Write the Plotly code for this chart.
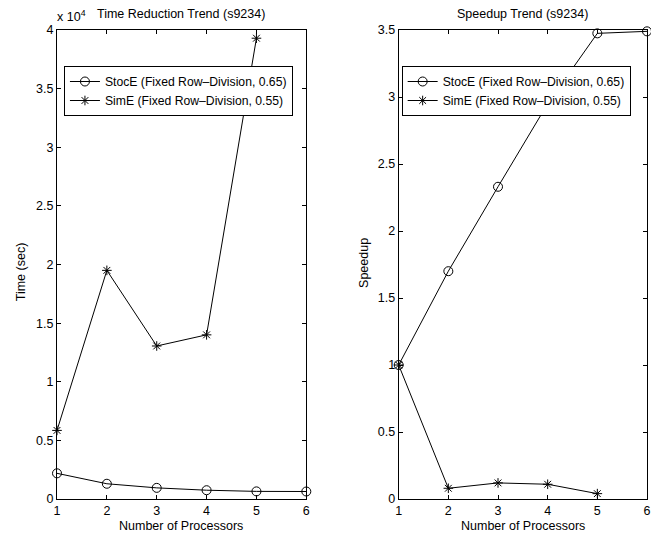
import plotly.graph_objects as go

procs = [1, 2, 3, 4, 5, 6]
procs_sime = [1, 2, 3, 4, 5]
stoce_time = [2190, 1300, 950, 750, 650, 640]
sime_time = [5850, 19500, 13050, 14000, 39300]
stoce_speedup = [1.0, 1.70, 2.33, 2.95, 3.475, 3.49]
sime_speedup = [1.0, 0.08, 0.12, 0.11, 0.04]

time_tickvals = [0, 5000, 10000, 15000, 20000, 25000, 30000, 35000, 40000]
time_ticktext = ["0", "0.5", "1", "1.5", "2", "2.5", "3", "3.5", "4"]
speed_tickvals = [0, 0.5, 1, 1.5, 2, 2.5, 3, 3.5]
speed_ticktext = ["0", "0.5", "1", "1.5", "2", "2.5", "3", "3.5"]

name_stoce = "StocE (Fixed Row\u2013Division, 0.65)"
name_sime = "SimE (Fixed Row\u2013Division, 0.55)"

FONT = "Liberation Sans, Arial, sans-serif"
FS = 12.5
LFS = 12.2
W, H = 651, 535
L, T, B = 57, 30, 36
pw = W - L
ph = H - T - B

def px_x(x):
    return (x - L) / pw

def px_y(y):
    return 1 - (y - T) / ph

fig = go.Figure()

circ = dict(symbol="circle-open", size=9, color="black", line=dict(width=1, color="black"))
star = dict(symbol="asterisk-open", size=8, color="black", line=dict(width=1, color="black"))

fig.add_trace(go.Scatter(x=procs, y=stoce_time, mode="lines+markers", name=name_stoce,
                         line=dict(color="black", width=1), marker=circ, cliponaxis=False,
                         xaxis="x", yaxis="y", legend="legend"))
fig.add_trace(go.Scatter(x=procs_sime, y=sime_time, mode="lines+markers", name=name_sime,
                         line=dict(color="black", width=1), marker=star, cliponaxis=False,
                         xaxis="x", yaxis="y", legend="legend"))
fig.add_trace(go.Scatter(x=procs, y=stoce_speedup, mode="lines+markers", name=name_stoce,
                         line=dict(color="black", width=1), marker=circ, cliponaxis=False,
                         xaxis="x2", yaxis="y2", legend="legend2"))
fig.add_trace(go.Scatter(x=procs_sime, y=sime_speedup, mode="lines+markers", name=name_sime,
                         line=dict(color="black", width=1), marker=star, cliponaxis=False,
                         xaxis="x2", yaxis="y2", legend="legend2"))

axis_common = dict(showline=True, linecolor="black", linewidth=1, mirror="ticks",
                   ticks="inside", ticklen=4, tickcolor="black", tickwidth=1,
                   showgrid=False, zeroline=False, tickfont=dict(family=FONT, size=FS, color="black"))

left_end = px_x(308)
right_start = px_x(401)

fig.update_layout(
    width=W, height=H,
    margin=dict(l=L, r=0, t=T, b=B),
    paper_bgcolor="white", plot_bgcolor="white",
    font=dict(family=FONT, size=FS, color="black"),
    xaxis=dict(domain=[0, left_end], range=[1, 6], tickvals=procs, anchor="y", **axis_common),
    yaxis=dict(domain=[0, 1], range=[0, 40000], tickvals=time_tickvals, ticktext=time_ticktext,
               anchor="x", **axis_common),
    xaxis2=dict(domain=[right_start, 1], range=[1, 6], tickvals=procs, anchor="y2", **axis_common),
    yaxis2=dict(domain=[0, 1], range=[0, 3.5], tickvals=speed_tickvals, ticktext=speed_ticktext,
                anchor="x2", **axis_common),
    legend=dict(x=px_x(64), y=px_y(66), xanchor="left", yanchor="top",
                bordercolor="black", borderwidth=1, bgcolor="white",
                font=dict(family=FONT, size=LFS, color="black"), tracegroupgap=0),
    legend2=dict(x=px_x(404), y=px_y(66), xanchor="left", yanchor="top",
                 bordercolor="black", borderwidth=1, bgcolor="white",
                 font=dict(family=FONT, size=LFS, color="black"), tracegroupgap=0),
    showlegend=True,
)

ann = [
    dict(text="Time Reduction Trend (s9234)", x=px_x(182), y=px_y(14), xanchor="center", yanchor="middle"),
    dict(text="x 10<sup>4</sup>", x=px_x(55), y=px_y(16), xanchor="left", yanchor="middle"),
    dict(text="Speedup Trend (s9234)", x=px_x(526), y=px_y(14), xanchor="center", yanchor="middle"),
    dict(text="Number of Processors", x=px_x(182), y=px_y(526), xanchor="center", yanchor="middle"),
    dict(text="Number of Processors", x=px_x(526), y=px_y(526), xanchor="center", yanchor="middle"),
    dict(text="Time (sec)", x=px_x(21), y=px_y(272), xanchor="center", yanchor="middle", textangle=-90),
    dict(text="Speedup", x=px_x(366), y=px_y(263), xanchor="center", yanchor="middle", textangle=-90),
]
for a in ann:
    a.update(xref="paper", yref="paper", showarrow=False, font=dict(family=FONT, size=FS, color="black"))
fig.update_layout(annotations=ann)

fig.write_html("out.html", config={"displayModeBar": False},
               post_script="document.body.style.margin='0';document.body.style.overflow='hidden';")
